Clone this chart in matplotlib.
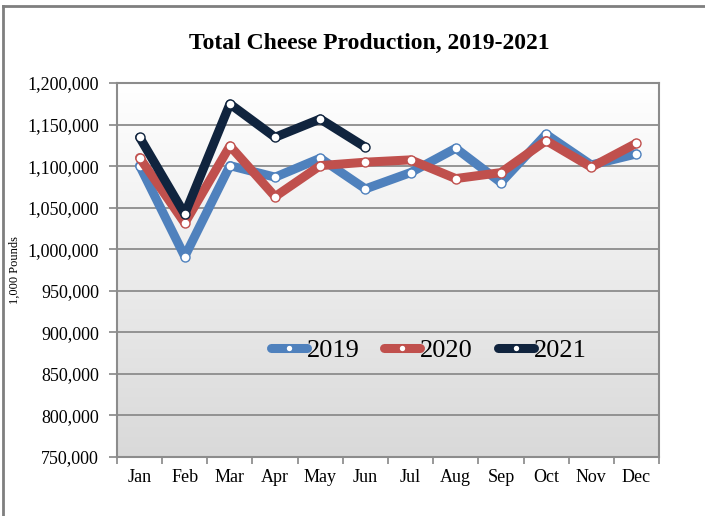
import matplotlib
matplotlib.use("Agg")
import matplotlib.pyplot as plt
import numpy as np
from matplotlib.lines import Line2D
from matplotlib.colors import LinearSegmentedColormap

months = ["Jan", "Feb", "Mar", "Apr", "May", "Jun", "Jul", "Aug", "Sep", "Oct", "Nov", "Dec"]
y2019 = [1100600, 991200, 1100600, 1086700, 1109500, 1072600, 1092200, 1121500, 1080200, 1138300, 1101400, 1114700]
y2020 = [1110200, 1031400, 1124300, 1063300, 1100600, 1104700, 1107500, 1085000, 1092200, 1130700, 1098700, 1127500]
y2021 = [1134700, 1042200, 1174800, 1134700, 1156700, 1122700]
series_names = ["2019", "2020", "2021"]
yticks = list(range(750000, 1200001, 50000))

colors = ["#4F81BD", "#C0504D", "#10243E"]

plt.rcParams['font.family'] = ['Liberation Serif', 'DejaVu Serif']

fig = plt.figure(figsize=(7.05, 5.16), dpi=100)
W, H = 705, 516
ax = fig.add_axes([117 / W, 1 - 457 / H, (659 - 117) / W, (457 - 83) / H])

# figure border (left & top visible)
fig.add_artist(Line2D([3 / W, 3 / W], [0, 1 - 6 / H], transform=fig.transFigure, color="#7f7f7f", lw=2))
fig.add_artist(Line2D([3 / W, 1], [1 - 6 / H, 1 - 6 / H], transform=fig.transFigure, color="#7f7f7f", lw=2))

# gradient background
grad = np.linspace(0, 1, 256).reshape(-1, 1)
cmap = LinearSegmentedColormap.from_list("g", ["#ffffff", "#d9d9d9"])
ax.imshow(grad, aspect="auto", cmap=cmap, extent=[0, 1, 0, 1], transform=ax.transAxes, zorder=0)

x = np.arange(len(months))
for vals, c, name in zip([y2019, y2020, y2021], colors, series_names):
    xs = x[:len(vals)]
    ax.plot(xs, vals, color=c, lw=6.5, solid_joinstyle="round", solid_capstyle="round",
            marker="o", markersize=6.5,
            markerfacecolor="white", markeredgecolor=c, markeredgewidth=1.0, label=name, zorder=3)

ax.set_xlim(-0.5, 11.5)
ax.set_ylim(750000, 1200000)
ax.set_yticks(yticks)
ax.set_yticklabels([f"{v:,}" for v in yticks])
ax.set_xticks(x)
ax.set_xticklabels(months)
ax.set_xticks(np.arange(-0.5, 12, 1), minor=True)
ax.tick_params(axis="x", which="major", length=0, pad=9, labelsize=13)
ax.tick_params(axis="x", which="minor", length=5, color="#868686", width=1.2)
ax.tick_params(axis="y", length=6, color="#868686", width=1.2, pad=7, labelsize=13)
ax.grid(axis="y", color="#8c8c8c", lw=1.3, zorder=1)
ax.set_axisbelow(True)
for s in ax.spines.values():
    s.set_color("#8c8c8c")
    s.set_linewidth(1.5)

ax.set_ylabel("1,000 Pounds", fontsize=9)
ax.yaxis.set_label_coords(-0.178, 0.5)

fig.text(369 / W, 1 - 43 / H, "Total Cheese Production, 2019-2021", ha="center", va="center",
         fontsize=17, fontweight="bold")

leg = ax.legend(loc="center", bbox_to_anchor=(0.575, 0.285), ncol=3, frameon=False, fontsize=19,
                handlelength=1.35, handletextpad=0.0, columnspacing=0.95, markerscale=0.75)

fig.savefig("out.png", dpi=100)
